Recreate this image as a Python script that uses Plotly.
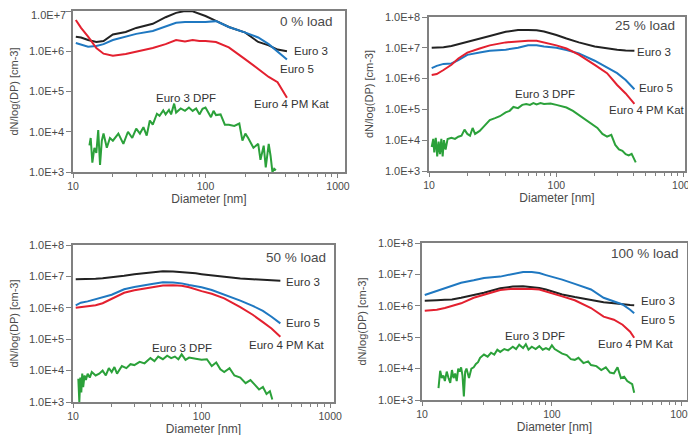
import plotly.graph_objects as go

# ---------------- data ----------------
# 0 % load
diam_0 = [10.5, 11.5, 13, 15, 17, 20, 25, 30, 40, 50, 60, 70, 80, 90, 100, 120, 150, 200, 250, 300, 350, 412]
euro3_0 = [2.3e6, 2.2e6, 1.9e6, 1.7e6, 1.8e6, 2.6e6, 3.0e6, 3.8e6, 4.8e6, 7.0e6, 9.0e6, 1.0e7, 9.8e6, 8.5e6, 7.5e6, 5.7e6, 4.0e6, 2.9e6, 1.7e6, 1.4e6, 1.1e6, 1.0e6]
euro5_0 = [1.6e6, 1.45e6, 1.3e6, 1.35e6, 1.5e6, 1.9e6, 2.3e6, 2.7e6, 3.2e6, 4.2e6, 5.1e6, 5.3e6, 5.3e6, 5.2e6, 5.3e6, 5.6e6, 4.0e6, 2.9e6, 2.2e6, 1.5e6, 9.5e5, 6.2e5]
euro4_0 = [6.0e6, 3.8e6, 2.3e6, 1.2e6, 8.7e5, 7.7e5, 8.5e5, 9.8e5, 1.2e6, 1.5e6, 1.9e6, 1.75e6, 1.9e6, 1.8e6, 1.8e6, 1.7e6, 1.25e6, 6.3e5, 3.7e5, 2.3e5, 1.7e5, 7.0e4]
dpf_diam_0 = [13.3, 13.6, 14, 14.5, 15, 15.5, 16, 16.5, 17, 18, 19, 20, 22, 24, 26, 28, 30, 32, 34, 36, 38, 40, 43, 45, 48, 50, 53, 55, 58, 60, 65, 70, 75, 80, 85, 90, 95, 100, 105, 110, 115, 120, 130, 140, 150, 165, 180, 190, 200, 210, 230, 250, 260, 275, 285, 300, 310, 320, 330, 340]
dpf_0 = [4.6e3, 7.0e3, 1.7e3, 4.0e3, 3.0e3, 1.1e4, 1.5e3, 6.0e3, 9.0e3, 4.0e3, 7.0e3, 6.0e3, 9.0e3, 5.0e3, 1.0e4, 7.0e3, 1.2e4, 9.0e3, 1.3e4, 8.0e3, 1.9e4, 1.5e4, 2.8e4, 2.5e4, 3.4e4, 2.7e4, 3.5e4, 2.7e4, 5.0e4, 3.0e4, 3.8e4, 3.3e4, 4.0e4, 3.3e4, 3.8e4, 2.7e4, 3.7e4, 4.0e4, 3.0e4, 2.3e4, 3.3e4, 2.6e4, 2.7e4, 1.5e4, 1.5e4, 1.4e4, 1.6e4, 6.0e3, 9.0e3, 7.0e3, 4.0e3, 5.0e3, 2.0e3, 4.5e3, 1.3e3, 5.0e3, 2.5e3, 1.0e3, 1.2e3, 1.1e3]

# 25 % load
diam_25 = [10.5, 11.5, 13, 15, 17, 20, 25, 30, 40, 50, 60, 70, 80, 90, 100, 120, 150, 200, 250, 300, 350, 410]
euro3_25 = [1.0e7, 1.0e7, 1.05e7, 1.15e7, 1.3e7, 1.6e7, 2.0e7, 2.4e7, 3.3e7, 3.8e7, 3.8e7, 3.7e7, 3.4e7, 3.0e7, 2.6e7, 2.0e7, 1.5e7, 1.1e7, 9.5e6, 8.6e6, 8.2e6, 8.0e6]
euro5_25 = [2.2e6, 2.6e6, 3.0e6, 3.1e6, 4.0e6, 5.9e6, 7.0e6, 8.0e6, 8.7e6, 1.0e7, 1.2e7, 1.2e7, 1.1e7, 1.05e7, 1.0e7, 8.5e6, 6.6e6, 3.8e6, 2.2e6, 1.5e6, 9.0e5, 4.5e5]
euro4_25 = [1.3e6, 1.4e6, 1.9e6, 2.8e6, 4.5e6, 7.0e6, 9.5e6, 1.2e7, 1.5e7, 1.65e7, 1.7e7, 1.7e7, 1.5e7, 1.35e7, 1.2e7, 9.5e6, 6.0e6, 2.8e6, 1.5e6, 6.2e5, 3.3e5, 1.5e5]
dpf_diam_25 = [10.5, 10.8, 11, 11.3, 11.6, 11.9, 12.2, 12.5, 12.8, 13.1, 13.5, 14, 15, 16, 17, 18, 19, 20, 21, 22, 23, 25, 27, 30, 33, 36, 40, 43, 46, 50, 54, 58, 62, 66, 70, 75, 80, 90, 100, 110, 120, 135, 150, 170, 190, 210, 230, 250, 270, 290, 310, 330, 350, 370, 390, 410, 420]
dpf_25 = [6.0e3, 1.1e4, 4.0e3, 1.2e4, 3.0e3, 9.0e3, 3.5e3, 1.1e4, 3.0e3, 1.0e4, 5.0e3, 1.1e4, 1.2e4, 1.1e4, 1.3e4, 1.4e4, 2.2e4, 1.6e4, 1.4e4, 2.5e4, 1.6e4, 2.0e4, 2.8e4, 4.5e4, 5.2e4, 6.0e4, 8.0e4, 9.0e4, 1.2e5, 1.1e5, 1.4e5, 1.5e5, 1.4e5, 1.6e5, 1.45e5, 1.6e5, 1.5e5, 1.55e5, 1.4e5, 1.3e5, 1.15e5, 9.0e4, 6.6e4, 4.5e4, 3.2e4, 2.5e4, 1.6e4, 1.3e4, 1.5e4, 7.0e3, 5.0e3, 4.5e3, 3.5e3, 3.2e3, 3.6e3, 2.5e3, 1.9e3]

# 50 % load
diam_50 = [10.5, 11.5, 13, 15, 17, 20, 25, 30, 40, 50, 60, 70, 80, 90, 100, 120, 150, 200, 250, 300, 350, 410]
euro3_50 = [8.1e6, 8.1e6, 8.2e6, 8.4e6, 8.7e6, 9.3e6, 1.05e7, 1.18e7, 1.35e7, 1.45e7, 1.42e7, 1.38e7, 1.32e7, 1.25e7, 1.18e7, 1.08e7, 9.6e6, 8.6e6, 8.1e6, 7.7e6, 7.5e6, 7.3e6]
euro5_50 = [1.2e6, 1.45e6, 1.6e6, 1.9e6, 2.1e6, 2.6e6, 3.9e6, 4.6e6, 5.6e6, 6.5e6, 6.4e6, 6.0e6, 5.3e6, 4.9e6, 4.5e6, 3.7e6, 2.7e6, 1.7e6, 1.15e6, 8.0e5, 5.2e5, 3.2e5]
euro4_50 = [1.0e6, 1.05e6, 1.1e6, 1.2e6, 1.4e6, 1.9e6, 3.0e6, 3.6e6, 4.5e6, 5.1e6, 5.2e6, 5.0e6, 4.5e6, 4.0e6, 3.4e6, 2.8e6, 2.0e6, 1.05e6, 6.0e5, 3.5e5, 2.2e5, 1.2e5]
dpf_diam_50 = [11, 11.2, 11.4, 11.6, 11.8, 12, 12.3, 12.6, 13, 13.5, 14, 15, 16, 17, 18, 19, 20, 21, 22, 24, 26, 28, 30, 33, 36, 40, 43, 46, 50, 54, 58, 62, 66, 70, 75, 80, 90, 100, 110, 120, 130, 140, 150, 165, 180, 200, 220, 240, 260, 280, 300, 320, 340, 355]
dpf_50 = [5.5e3, 1.0e3, 6.0e3, 2.0e3, 8.0e3, 3.0e3, 7.0e3, 5.0e3, 8.0e3, 6.0e3, 9.0e3, 7.0e3, 8.0e3, 1.0e4, 7.0e3, 1.2e4, 9.0e3, 1.3e4, 8.0e3, 1.4e4, 1.2e4, 1.6e4, 1.5e4, 1.9e4, 1.7e4, 2.5e4, 2.0e4, 2.8e4, 2.3e4, 3.0e4, 2.5e4, 2.8e4, 2.3e4, 3.3e4, 2.2e4, 2.6e4, 2.4e4, 2.2e4, 2.3e4, 1.4e4, 1.8e4, 1.1e4, 9.0e3, 1.2e4, 7.0e3, 6.0e3, 4.0e3, 5.0e3, 3.5e3, 2.5e3, 3.0e3, 1.8e3, 2.2e3, 1.2e3]

# 100 % load
diam_100 = [10.5, 11.5, 13, 15, 17, 20, 25, 30, 40, 50, 60, 70, 80, 90, 100, 120, 150, 200, 250, 300, 350, 400, 430]
euro3_100 = [1.45e6, 1.45e6, 1.5e6, 1.55e6, 1.6e6, 1.8e6, 2.2e6, 2.6e6, 3.6e6, 4.1e6, 4.2e6, 4.0e6, 3.7e6, 3.3e6, 2.9e6, 2.3e6, 1.9e6, 1.5e6, 1.3e6, 1.2e6, 1.1e6, 1.07e6, 1.05e6]
euro5_100 = [2.2e6, 2.5e6, 3.0e6, 3.5e6, 4.2e6, 5.4e6, 6.5e6, 7.7e6, 8.5e6, 1.0e7, 1.2e7, 1.2e7, 1.1e7, 9.5e6, 8.5e6, 6.8e6, 5.0e6, 3.3e6, 1.8e6, 1.4e6, 1.1e6, 7.5e5, 5.8e5]
euro4_100 = [6.9e5, 7.2e5, 7.5e5, 8.5e5, 1.0e6, 1.2e6, 1.8e6, 2.3e6, 3.2e6, 3.5e6, 3.5e6, 3.4e6, 3.3e6, 2.9e6, 2.5e6, 2.0e6, 1.5e6, 8.5e5, 4.5e5, 3.6e5, 2.5e5, 1.5e5, 9.6e4]
dpf_diam_100 = [13.4, 13.8, 14.2, 14.6, 15, 15.5, 16, 16.5, 17, 17.5, 18, 18.5, 19, 19.5, 20, 20.5, 21, 21.5, 22, 23, 24, 25, 26, 27, 28, 30, 32, 34, 36, 38, 40, 43, 46, 50, 53, 56, 60, 63, 66, 70, 75, 80, 85, 90, 95, 100, 105, 110, 120, 130, 140, 150, 160, 175, 190, 200, 220, 240, 260, 280, 300, 320, 340, 360, 380, 400, 415, 430]
dpf_100 = [2.4e3, 8.5e3, 5.0e3, 6.0e3, 4.0e3, 8.0e3, 5.0e3, 3.5e3, 9.0e3, 5.0e3, 7.0e3, 4.0e3, 1.0e4, 8.0e3, 1.1e4, 6.0e3, 1.3e3, 8.0e3, 1.0e4, 5.0e3, 1.0e4, 1.1e4, 1.4e4, 1.6e4, 2.2e4, 2.8e4, 2.4e4, 3.2e4, 2.8e4, 4.0e4, 3.4e4, 4.2e4, 3.8e4, 5.0e4, 4.2e4, 5.8e4, 4.5e4, 6.0e4, 4.0e4, 5.0e4, 4.2e4, 5.2e4, 4.0e4, 4.5e4, 4.0e4, 5.5e4, 4.2e4, 3.8e4, 3.0e4, 2.7e4, 2.0e4, 1.9e4, 2.2e4, 1.5e4, 1.7e4, 1.3e4, 1.2e4, 9.0e3, 1.1e4, 7.5e3, 7.0e3, 1.1e4, 5.0e3, 5.5e3, 4.0e3, 3.5e3, 3.2e3, 1.7e3]

panel_titles = ["0 % load", "25 % load", "50 % load", "100 % load"]
series_names = ["Euro 3", "Euro 5", "Euro 4 PM Kat", "Euro 3 DPF"]
x_tick_vals = [10, 100, 1000]
x_tick_text = ["10", "100", "1000"]
x_minor_vals = [20, 30, 40, 50, 60, 70, 80, 90, 200, 300, 400, 500, 600, 700, 800, 900]
y_tick_vals_4 = [1e3, 1e4, 1e5, 1e6, 1e7]
y_tick_vals_5 = [1e3, 1e4, 1e5, 1e6, 1e7, 1e8]
y_tick_text_5 = ["1.0E+3", "1.0E+4", "1.0E+5", "1.0E+6", "1.0E+7", "1.0E+8"]
x_title = "Diameter [nm]"
y_title = "dN/log(DP) [cm-3]"

# ---------------- styling ----------------
C_E3 = "#222222"
C_E5 = "#1f78c1"
C_E4 = "#e3202f"
C_DPF = "#2ba13a"
AX = "#808080"
TXT = "#4a4a4a"
FONT = "Liberation Sans, Arial, sans-serif"
W, H = 696, 435
OFF = 8  # page body margin


def px_x(a, b):
    return [(a - OFF) / W, (b - OFF) / W]


def px_y(top, bottom):
    return [1 - (bottom - OFF) / H, 1 - (top - OFF) / H]


# top-left panel: the top label (1.0E+7) sits at the very page edge, so it is
# drawn as a text pinned to the top of the figure instead of an axis label
ytt_0 = y_tick_text_5[:4] + [""]

panels = [
    dict(d=diam_0, e3=euro3_0, e5=euro5_0, e4=euro4_0, dd=dpf_diam_0, dpf=dpf_0,
         xdom=px_x(73, 345), ydom=px_y(11, 172), xr=[1, 3.053], yr=[3, 7],
         ytv=y_tick_vals_4, ytt=ytt_0,
         lab=dict(title=(2.98, 6.73), e3=(2.65, 6.01), e5=(2.55, 5.57), e4=(2.35, 4.70), dpf=(1.85, 4.85))),
    dict(d=diam_25, e3=euro3_25, e5=euro5_25, e4=euro4_25, dd=dpf_diam_25, dpf=dpf_25,
         xdom=px_x(429, 685), ydom=px_y(17, 171), xr=[1, 3.01], yr=[3, 8],
         ytv=y_tick_vals_5, ytt=y_tick_text_5,
         lab=dict(title=(2.95, 7.71), e3=(2.62, 6.87), e5=(2.63, 5.68), e4=(2.40, 4.98), dpf=(1.91, 5.49))),
    dict(d=diam_50, e3=euro3_50, e5=euro5_50, e4=euro4_50, dd=dpf_diam_50, dpf=dpf_50,
         xdom=px_x(73, 334), ydom=px_y(245, 402), xr=[1, 3.03], yr=[3, 8],
         ytv=y_tick_vals_5, ytt=y_tick_text_5,
         lab=dict(title=(2.98, 7.59), e3=(2.64, 6.81), e5=(2.64, 5.52), e4=(2.35, 4.82), dpf=(1.85, 4.73))),
    dict(d=diam_100, e3=euro3_100, e5=euro5_100, e4=euro4_100, dd=dpf_diam_100, dpf=dpf_100,
         xdom=px_x(422, 687), ydom=px_y(243, 400), xr=[1, 3.04], yr=[3, 8],
         ytv=y_tick_vals_5, ytt=y_tick_text_5,
         lab=dict(title=(2.99, 7.68), e3=(2.67, 6.14), e5=(2.67, 5.56), e4=(2.34, 4.78), dpf=(1.87, 5.03))),
]

fig = go.Figure()
annotations = []
for i, p in enumerate(panels):
    sfx = "" if i == 0 else str(i + 1)
    xa, ya = "x" + sfx, "y" + sfx
    for xs, ys, col in [(p["d"], p["e3"], C_E3), (p["d"], p["e5"], C_E5),
                        (p["d"], p["e4"], C_E4), (p["dd"], p["dpf"], C_DPF)]:
        fig.add_trace(go.Scatter(x=xs, y=ys, mode="lines", xaxis=xa, yaxis=ya,
                                 line=dict(color=col, width=2), showlegend=False,
                                 hoverinfo="skip"))
    fig.layout["xaxis" + sfx] = dict(
        domain=p["xdom"], anchor=ya, type="log", range=p["xr"], automargin=False,
        tickmode="array", tickvals=x_tick_vals, ticktext=x_tick_text,
        ticks="outside", ticklen=4, tickwidth=1.2, tickcolor=AX,
        minor=dict(tickmode="array", tickvals=x_minor_vals, ticks="outside",
                   ticklen=3, tickwidth=1, tickcolor=AX, showgrid=False),
        showline=True, linecolor=AX, linewidth=1.5, mirror=True,
        showgrid=False, zeroline=False, ticklabeloverflow="allow",
        tickfont=dict(family=FONT, size=10.5, color=TXT),
        title=dict(text=x_title, font=dict(family=FONT, size=12, color=TXT), standoff=0),
    )
    fig.layout["yaxis" + sfx] = dict(
        domain=p["ydom"], anchor=xa, type="log", range=p["yr"], automargin=False,
        tickmode="array", tickvals=p["ytv"], ticktext=p["ytt"],
        ticks="outside", ticklen=5, tickwidth=1.2, tickcolor=AX,
        showline=True, linecolor=AX, linewidth=1.5, mirror=True,
        showgrid=False, zeroline=False, ticklabeloverflow="allow",
        tickfont=dict(family=FONT, size=11, color=TXT),
        title=dict(text=y_title, font=dict(family=FONT, size=11, color=TXT), standoff=9),
    )
    L = p["lab"]
    annotations.append(dict(text=panel_titles[i], x=L["title"][0], y=L["title"][1], xref=xa, yref=ya,
                            xanchor="right", yanchor="middle", showarrow=False,
                            font=dict(family=FONT, size=13.5, color=TXT)))
    for key, name in zip(["e3", "e5", "e4"], series_names[:3]):
        annotations.append(dict(text=name, x=L[key][0], y=L[key][1], xref=xa, yref=ya,
                                xanchor="left", yanchor="middle", showarrow=False,
                                font=dict(family=FONT, size=11.5, color="#333333")))
    annotations.append(dict(text=series_names[3], x=L["dpf"][0], y=L["dpf"][1], xref=xa, yref=ya,
                            xanchor="center", yanchor="middle", showarrow=False,
                            font=dict(family=FONT, size=11.5, color="#333333")))

# top label of the first panel
annotations.append(dict(text=y_tick_text_5[4], x=(67 - OFF) / W, y=1.0, xref="paper", yref="paper",
                        xanchor="right", yanchor="top", showarrow=False, borderpad=0,
                        font=dict(family=FONT, size=11, color=TXT)))

fig.update_layout(
    template="none",
    width=W, height=H,
    margin=dict(l=0, r=0, t=0, b=0, autoexpand=False),
    paper_bgcolor="white", plot_bgcolor="white",
    annotations=annotations,
    showlegend=False,
)

fig.write_html("out.html")
